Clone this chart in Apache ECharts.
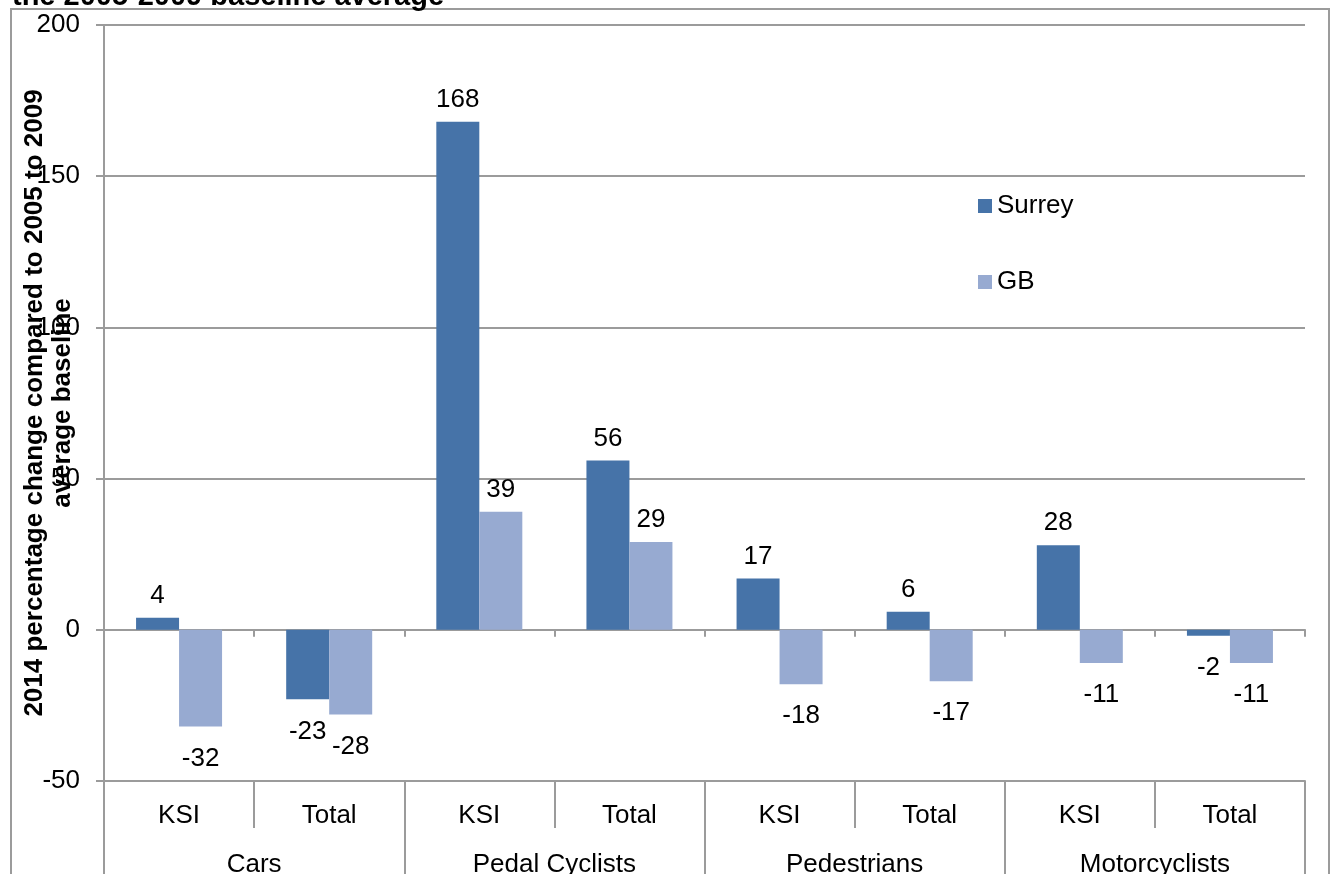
<!DOCTYPE html>
<html>
<head>
<meta charset="utf-8">
<script src="https://cdn.jsdelivr.net/npm/echarts@6/dist/echarts.min.js"></script>
<style>
  html, body { margin: 0; padding: 0; background: #ffffff; }
  #chart { width: 1333px; height: 874px; }
</style>
</head>
<body>
<div id="chart"></div>
<script>
// Casualty types (outer level) and severity split (inner level)
const groups = ['Cars', 'Pedal Cyclists', 'Pedestrians', 'Motorcyclists'];
const subCategories = ['KSI', 'Total', 'KSI', 'Total', 'KSI', 'Total', 'KSI', 'Total'];

// 2014 percentage change against the 2005-2009 average
const surrey = [4, -23, 168, 56, 17, 6, 28, -2];
const gb = [-32, -28, 39, 29, -18, -17, -11, -11];

const seriesNames = ['Surrey', 'GB'];
const seriesColors = ['#4673A8', '#97AAD1'];

const FONT = '"Liberation Sans", Arial, sans-serif';
const GRID_GRAY = '#9b9b9b';

// Positive values get their label above the bar, negative ones below
function withLabels(values) {
  return values.map(v => ({
    value: v,
    label: v >= 0
      ? { position: 'top', distance: 9 }
      : { position: 'bottom', distance: 19 }
  }));
}

const chart = echarts.init(document.getElementById('chart'), null, { renderer: 'canvas' });

chart.setOption({
  backgroundColor: '#ffffff',
  animation: false,
  textStyle: { fontFamily: FONT, color: '#000' },
  title: {
    text: 'the 2005-2009 baseline average',
    left: 7,
    top: -23,
    textStyle: { fontFamily: FONT, fontSize: 29, fontWeight: 'bold', color: '#000' }
  },
  graphic: [{
    type: 'rect',
    shape: { x: 11, y: 9, width: 1318, height: 900 },
    style: { fill: 'none', stroke: GRID_GRAY, lineWidth: 2 },
    silent: true,
    z: -10
  }],
  legend: {
    orient: 'vertical',
    left: 973,
    top: 188,
    itemWidth: 14,
    itemHeight: 14,
    itemGap: 50,
    icon: 'rect',
    data: seriesNames,
    textStyle: { fontFamily: FONT, fontSize: 26, color: '#000' }
  },
  grid: { left: 104, right: 28, top: 25, bottom: 93, containLabel: false, outerBoundsMode: 'none' },
  xAxis: [
    {
      // axis line and boundary ticks across the zero line
      type: 'category',
      data: subCategories,
      position: 'bottom',
      axisLine: { onZero: true, lineStyle: { color: GRID_GRAY, width: 2 } },
      axisTick: { show: true, length: 7, lineStyle: { color: GRID_GRAY, width: 2 } },
      axisLabel: { show: false },
      splitLine: { show: false }
    },
    {
      // inner level: KSI / Total
      type: 'category',
      data: subCategories,
      position: 'bottom',
      axisLine: { onZero: false, show: true, lineStyle: { color: GRID_GRAY, width: 2 } },
      axisTick: { show: true, length: 47, lineStyle: { color: GRID_GRAY, width: 2 } },
      axisLabel: { show: true, margin: 22, fontSize: 26, fontFamily: FONT, color: '#000', interval: 0 },
      splitLine: { show: false }
    },
    {
      // outer level: casualty type
      type: 'category',
      data: groups,
      position: 'bottom',
      axisLine: { onZero: false, show: false },
      axisTick: { show: true, length: 100, lineStyle: { color: GRID_GRAY, width: 2 } },
      axisLabel: { show: true, margin: 71, fontSize: 26, fontFamily: FONT, color: '#000', interval: 0 },
      splitLine: { show: false }
    }
  ],
  yAxis: {
    type: 'value',
    min: -50,
    max: 200,
    interval: 50,
    name: '2014 percentage change compared to 2005 to 2009\naverage baseline',
    nameLocation: 'middle',
    nameRotate: 90,
    nameGap: 27,
    nameMoveOverlap: false,
    nameTextStyle: { fontFamily: FONT, fontSize: 26, fontWeight: 'bold', color: '#000', lineHeight: 28, align: 'center' },
    axisLine: { show: true, lineStyle: { color: GRID_GRAY, width: 2 } },
    axisTick: { show: true, length: 8, lineStyle: { color: GRID_GRAY, width: 2 } },
    axisLabel: { margin: 24, fontSize: 26, fontFamily: FONT, color: '#000' },
    splitLine: { show: true, lineStyle: { color: GRID_GRAY, width: 2 } }
  },
  series: [
    {
      name: seriesNames[0],
      type: 'bar',
      xAxisIndex: 0,
      data: withLabels(surrey),
      barWidth: 43,
      barGap: '0%',
      itemStyle: { color: seriesColors[0] },
      label: { show: true, fontSize: 26, fontFamily: FONT, color: '#000' }
    },
    {
      name: seriesNames[1],
      type: 'bar',
      xAxisIndex: 0,
      data: withLabels(gb),
      barWidth: 43,
      barGap: '0%',
      itemStyle: { color: seriesColors[1] },
      label: { show: true, fontSize: 26, fontFamily: FONT, color: '#000' }
    }
  ]
});
</script>
</body>
</html>
